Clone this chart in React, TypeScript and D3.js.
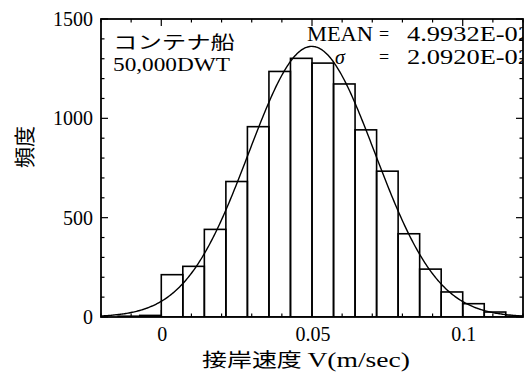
import React from "react";
import * as d3 from "d3";

// Berthing-velocity histogram, container ship 50,000 DWT
const BIN_WIDTH = 1 / 140;
const BIN_FIRST = -3 / 140;
const binCounts = [0, 4, 8, 213, 255, 441, 682, 958, 1236, 1302, 1278, 1173, 942, 734, 419, 241, 126, 67, 25, 4];

// Fitted normal distribution
const MEAN = 4.9932e-2;
const SIGMA = 2.092e-2;
const SAMPLE_COUNT = 10000;

const xTickValues = [0, 0.05, 0.1];
const xTickLabels = ["0", "0.05", "0.1"];
const yTickValues = [0, 500, 1000, 1500];
const yTickLabels = ["0", "500", "1000", "1500"];

const W = 530;
const H = 374;
const M = { left: 101, right: 523, top: 19, bottom: 317 };

const SERIF = "'Liberation Serif', 'DejaVu Serif', serif";
const CJK = "'Noto Sans CJK JP', 'Liberation Serif', sans-serif";

export default function App() {
  const x = d3.scaleLinear().domain([-0.02, 0.12]).range([M.left, M.right]);
  const y = d3.scaleLinear().domain([0, 1500]).range([M.bottom, M.top]);

  const bins = binCounts.map((c, i) => ({
    x0: BIN_FIRST + i * BIN_WIDTH,
    x1: BIN_FIRST + (i + 1) * BIN_WIDTH,
    count: c,
  }));

  const density = (v: number) =>
    (SAMPLE_COUNT * BIN_WIDTH) / (SIGMA * Math.sqrt(2 * Math.PI)) *
    Math.exp(-0.5 * ((v - MEAN) / SIGMA) ** 2);
  const curvePts = d3.range(-56, 337).map((k) => k / 2800).map((v) => [v, density(v)] as [number, number]);
  const line = d3
    .line<[number, number]>()
    .x((d) => x(d[0]))
    .y((d) => y(d[1]));

  const xMinor = d3.range(-2, 13).map((k) => k / 100);
  const yMinor = d3.range(0, 16).map((k) => k * 100);

  return (
    <svg
      width={W}
      height={H}
      style={{ position: "absolute", left: 0, top: 0, background: "#fff" }}
    >
      <defs>
        <clipPath id="plotClip">
          <rect x={M.left} y={M.top} width={M.right - M.left} height={M.bottom - M.top} />
        </clipPath>
      </defs>

      <g clipPath="url(#plotClip)">
        {bins
          .filter((b) => b.count > 0)
          .map((b, i) => (
            <rect
              key={i}
              x={x(b.x0)}
              y={y(b.count)}
              width={x(b.x1) - x(b.x0)}
              height={y(0) - y(b.count)}
              fill="none"
              stroke="#000"
              strokeWidth={1.6}
            />
          ))}
        <path d={line(curvePts) || ""} fill="none" stroke="#000" strokeWidth={1.4} />

        <g fontFamily={SERIF} fontSize={20} fill="#000">
          <text x={307} y={41} textLength={66} lengthAdjust="spacingAndGlyphs">MEAN</text>
          <text x={379} y={40} fontSize={18}>=</text>
          <text x={407} y={41} textLength={124} lengthAdjust="spacingAndGlyphs">4.9932E-02</text>
          <text x={335} y={64} fontStyle="italic">σ</text>
          <text x={379} y={63} fontSize={18}>=</text>
          <text x={407} y={64} textLength={124} lengthAdjust="spacingAndGlyphs">2.0920E-02</text>
        </g>

        <text x={113} y={49} fontFamily={CJK} fontSize={18} textLength={122} lengthAdjust="spacingAndGlyphs">
          コンテナ船
        </text>
        <text x={113} y={71} fontFamily={SERIF} fontSize={19} textLength={117} lengthAdjust="spacingAndGlyphs">
          50,000DWT
        </text>
      </g>

      {/* inward ticks on all four sides */}
      <g stroke="#000" strokeWidth={1.2}>
        {xMinor.map((v, i) => {
          const major = xTickValues.some((t) => Math.abs(t - v) < 1e-9);
          const len = major ? 7 : 3.5;
          return (
            <g key={i}>
              <line x1={x(v)} x2={x(v)} y1={M.bottom} y2={M.bottom - len} />
              <line x1={x(v)} x2={x(v)} y1={M.top} y2={M.top + len} />
            </g>
          );
        })}
        {yMinor.map((v, i) => {
          const major = v % 500 === 0;
          const len = major ? 7 : 3.5;
          return (
            <g key={i}>
              <line x1={M.left} x2={M.left + len} y1={y(v)} y2={y(v)} />
              <line x1={M.right} x2={M.right - len} y1={y(v)} y2={y(v)} />
            </g>
          );
        })}
      </g>

      <rect
        x={M.left}
        y={M.top}
        width={M.right - M.left}
        height={M.bottom - M.top}
        fill="none"
        stroke="#000"
        strokeWidth={1.8}
      />

      <g fontFamily={SERIF} fontSize={20} fill="#000">
        {yTickValues.map((v, i) => (
          <text key={i} x={93} y={y(v) + 7} textAnchor="end">
            {yTickLabels[i]}
          </text>
        ))}
        {xTickValues.map((v, i) => (
          <text key={i} x={x(v) + 1} y={341} textAnchor="middle">
            {xTickLabels[i]}
          </text>
        ))}
      </g>

      <text
        x={202}
        y={367}
        fontFamily={CJK}
        fontSize={19}
        textLength={208}
        lengthAdjust="spacingAndGlyphs"
      >
        接岸速度 <tspan fontFamily={SERIF} fontSize={21}>V(m/sec)</tspan>
      </text>

      <text
        transform="translate(32,147) rotate(-90)"
        fontFamily={CJK}
        fontSize={21}
        textAnchor="middle"
      >
        頻度
      </text>
    </svg>
  );
}
